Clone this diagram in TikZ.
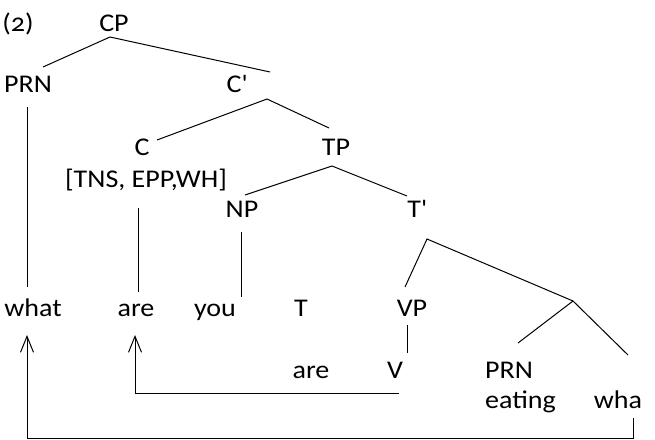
\documentclass[tikz,border=0pt]{standalone}
\usepackage{fontspec}
\setmainfont{Carlito}[FakeStretch=1.1]
\usetikzlibrary{arrows.meta}
\begin{document}
\begin{tikzpicture}[x=1pt,y=-1pt,
  lbl/.style={anchor=base,inner sep=0pt,font=\fontsize{25.5}{28}\selectfont},
  branch/.style={line width=1pt},
  move/.style={line width=1pt,-{Straight Barb[length=16pt,width=13pt,line width=1pt]}}]
\useasboundingbox (0,0) rectangle (655,439);
% labels
\node[lbl] (ex) at (18,31) {(\addfontfeatures{Numbers=OldStyle}2)};
\node[lbl] (cp) at (114,31) {CP};
\node[lbl] (prn) at (28,92) {PRN};
\node[lbl] (cbar) at (237,92) {C\textquotesingle};
\node[lbl] (c) at (142,155) {C};
\node[lbl] (tp) at (336,155) {TP};
\node[lbl] (feat) at (146,187) {[TNS, EPP,WH]};
\node[lbl] (np) at (242,217) {NP};
\node[lbl] (tbar) at (417,217) {T\textquotesingle};
\node[lbl] (what) at (33,316) {what};
\node[lbl] (are) at (136,316) {are};
\node[lbl] (you) at (215,316) {you};
\node[lbl] (t) at (301,316) {T};
\node[lbl] (vp) at (412,316) {VP};
\node[lbl] (are2) at (311,378) {are};
\node[lbl] (v) at (395,378) {V};
\node[lbl,anchor=base west] (prn2) at (485,378) {PRN};
\node[lbl,anchor=base west] (eating) at (485,408) {eating};
\node[lbl] (wha) at (618,408) {wha};
% branch points
\coordinate (cpB) at (110,37);
\coordinate (prnT) at (43,67);
\coordinate (cbarT) at (270,72);
\coordinate (cbarB) at (267,99);
\coordinate (cT) at (157,140);
\coordinate (tpT) at (329,128);
\coordinate (tpB) at (332,166);
\coordinate (npT) at (245,195);
\coordinate (tbarT) at (407,196);
\coordinate (prnB) at (27,107);
\coordinate (whatT) at (27,287);
\coordinate (featB) at (138,208);
\coordinate (areT) at (138,292);
\coordinate (npB) at (241,232);
\coordinate (youT) at (241,297);
\coordinate (tbarB) at (427,239);
\coordinate (vpT) at (405,287);
\coordinate (j) at (573,301);
\coordinate (prn2T) at (518,343);
\coordinate (whaT) at (628,355);
\coordinate (vpB) at (407,325);
\coordinate (vT) at (407,353);
\coordinate (are2B) at (399,393);
\coordinate (areB) at (135,335);
\coordinate (whaB) at (633,418);
\coordinate (whatB) at (27,335);
% tree
\draw[branch] (prnT) -- (cpB) -- (cbarT);
\draw[branch] (cT) -- (cbarB) -- (tpT);
\draw[branch] (npT) -- (tpB) -- (tbarT);
\draw[branch] (prnB) -- (whatT);
\draw[branch] (featB) -- (areT);
\draw[branch] (npB) -- (youT);
\draw[branch] (vpT) -- (tbarB) -- (j);
\draw[branch] (prn2T) -- (j) -- (whaT);
\draw[branch] (vpB) -- (vT);
% movement arrows
\draw[move] (are2B) -- (areB |- are2B) -- (areB);
\draw[move] (whaB) -- (633,438) -- (27,438) -- (whatB);
\end{tikzpicture}
\end{document}
